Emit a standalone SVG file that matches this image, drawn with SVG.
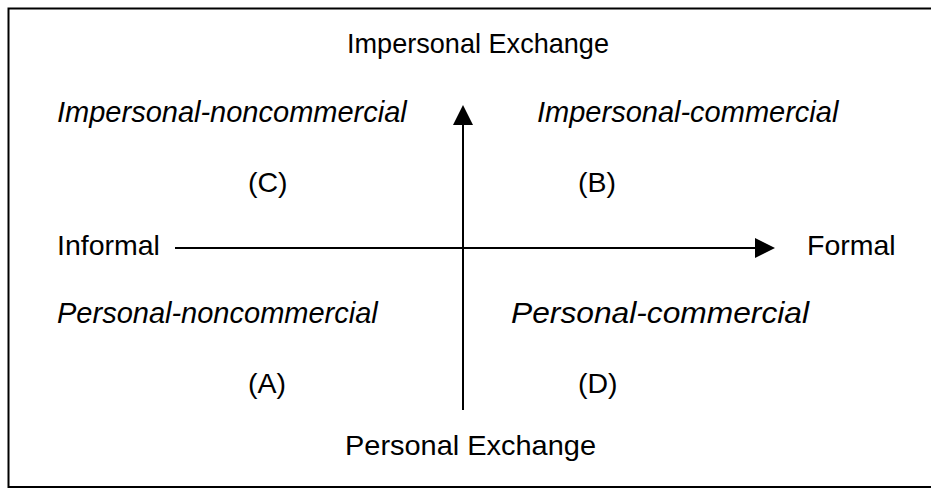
<svg xmlns="http://www.w3.org/2000/svg" width="931" height="491" viewBox="0 0 931 491">
<style>
.t{font-family:"Liberation Sans",Arial,sans-serif;font-size:28.5px;fill:#000}
.i{font-style:italic;font-size:29px}
.ln{stroke:#000;stroke-width:2;fill:none}
</style>
<rect x="0" y="0" width="931" height="491" fill="#fff"/>
<rect x="8.5" y="8.5" width="940" height="478.5" fill="none" stroke="#000" stroke-width="2"/>
<g id="connectors">
<line class="ln" x1="175" y1="248" x2="757" y2="248"/>
<polygon points="755,238 775,248 755,258" fill="#000"/>
<line class="ln" x1="463" y1="410" x2="463" y2="123"/>
<polygon points="453,125 463,105 473,125" fill="#000"/>
</g>
<g id="top"><text class="t" x="347" y="53" textLength="262" lengthAdjust="spacingAndGlyphs">Impersonal Exchange</text></g>
<g id="bottom"><text class="t" x="345" y="455" textLength="251" lengthAdjust="spacingAndGlyphs">Personal Exchange</text></g>
<g id="left"><text class="t" x="57" y="255">Informal</text></g>
<g id="right"><text class="t" x="807" y="255">Formal</text></g>
<g id="C"><text class="t i" x="57" y="122">Impersonal-noncommercial</text><text class="t" x="248" y="192">(C)</text></g>
<g id="B"><text class="t i" x="537" y="122">Impersonal-commercial</text><text class="t" x="578" y="192">(B)</text></g>
<g id="A"><text class="t i" x="57" y="323">Personal-noncommercial</text><text class="t" x="248" y="393">(A)</text></g>
<g id="D"><text class="t i" x="511" y="323" textLength="298" lengthAdjust="spacingAndGlyphs">Personal-commercial</text><text class="t" x="578" y="393">(D)</text></g>
</svg>
